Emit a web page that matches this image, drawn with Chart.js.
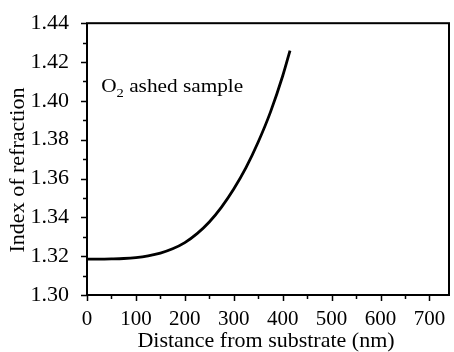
<!DOCTYPE html>
<html>
<head>
<meta charset="utf-8">
<script src="https://cdn.jsdelivr.net/npm/chart.js@4/dist/chart.umd.min.js"></script>
<style>
html,body{margin:0;padding:0;background:#fff;}
#wrap{width:454px;height:352px;}
</style>
</head>
<body>
<div id="wrap"><canvas id="c" width="454" height="352"></canvas></div>
<script>
const distances = [0, 25, 50, 75, 100, 125, 150, 175, 200, 225, 250, 275, 300, 325, 350, 375, 400, 415];
const refractiveIndex = [1.3185, 1.3185, 1.3186, 1.3188, 1.3193, 1.3202, 1.3216, 1.3238, 1.3270, 1.3316, 1.3376, 1.3453, 1.3546, 1.3656, 1.3788, 1.3942, 1.4128, 1.4259];
const xTicks = [0, 100, 200, 300, 400, 500, 600, 700];
const yTicks = [1.30, 1.32, 1.34, 1.36, 1.38, 1.40, 1.42, 1.44];
const xTitle = 'Distance from substrate (nm)';
const yTitle = 'Index of refraction';
const annotationText = ['O', '2', ' ashed sample'];

const FONT = '"Liberation Serif", "Times New Roman", serif';

const framePlugin = {
  id: 'frame',
  afterDraw(chart) {
    const {ctx, chartArea: a, scales: {x, y}} = chart;
    ctx.save();
    ctx.strokeStyle = '#000';
    ctx.lineWidth = 2;
    ctx.strokeRect(a.left, a.top, a.right - a.left, a.bottom - a.top);
    ctx.lineWidth = 1.5;
    ctx.beginPath();
    for (let v = 0; v <= 740; v += 50) {
      const px = Math.round(x.getPixelForValue(v)) + 0.5;
      const len = (v % 100 === 0) ? 6 : 4;
      ctx.moveTo(px, a.bottom);
      ctx.lineTo(px, a.bottom + len);
    }
    for (let i = 0; i <= 14; i++) {
      const v = 1.30 + i * 0.01;
      const py = Math.round(y.getPixelForValue(v)) + 0.5;
      const len = (i % 2 === 0) ? 6 : 4;
      ctx.moveTo(a.left, py);
      ctx.lineTo(a.left - len, py);
    }
    ctx.stroke();
    ctx.fillStyle = '#000';
    // axis titles
    ctx.font = '22px ' + FONT;
    ctx.textAlign = 'center';
    ctx.textBaseline = 'alphabetic';
    ctx.fillText(xTitle, 266, 347);
    ctx.save();
    ctx.translate(24, 170);
    ctx.rotate(-Math.PI / 2);
    ctx.fillText(yTitle, 0, 0);
    ctx.restore();
    // annotation
    const ax = x.getPixelForValue(29);
    const ay = y.getPixelForValue(1.4044);
    ctx.textAlign = 'left';
    ctx.save();
    ctx.translate(ax, ay);
    ctx.scale(1.12, 1);
    ctx.font = '19px ' + FONT;
    ctx.fillText(annotationText[0], 0, 0);
    let w = ctx.measureText(annotationText[0]).width;
    ctx.font = '13px ' + FONT;
    ctx.fillText(annotationText[1], w, 5);
    w += ctx.measureText(annotationText[1]).width;
    ctx.font = '19px ' + FONT;
    ctx.fillText(annotationText[2], w, 0);
    ctx.restore();
    ctx.restore();
  }
};

new Chart(document.getElementById('c'), {
  type: 'line',
  data: {
    datasets: [{
      data: distances.map((d, i) => ({x: d, y: refractiveIndex[i]})),
      borderColor: '#000',
      borderWidth: 2.8,
      pointRadius: 0,
      fill: false,
      cubicInterpolationMode: 'monotone'
    }]
  },
  options: {
    responsive: false,
    animation: false,
    devicePixelRatio: 1,
    layout: {padding: {top: 20, right: 5, left: 0, bottom: 0}},
    plugins: {legend: {display: false}, tooltip: {enabled: false}},
    scales: {
      x: {
        type: 'linear', min: 0, max: 740,
        afterFit(s) { s.height = 57; },
        afterBuildTicks(s) { s.ticks = xTicks.map(v => ({value: v})); },
        border: {display: false},
        grid: {display: false},
        ticks: {color: '#000', padding: 4, maxRotation: 0, font: {family: FONT, size: 21}},
        title: {display: false}
      },
      y: {
        type: 'linear', min: 1.30, max: 1.44,
        afterFit(s) { s.width = 87; },
        afterBuildTicks(s) { s.ticks = yTicks.map(v => ({value: v})); },
        border: {display: false},
        grid: {display: false},
        ticks: {color: '#000', padding: 10, font: {family: FONT, size: 22}, callback: v => v.toFixed(2)},
        title: {display: false}
      }
    }
  },
  plugins: [framePlugin]
});
</script>
</body>
</html>
